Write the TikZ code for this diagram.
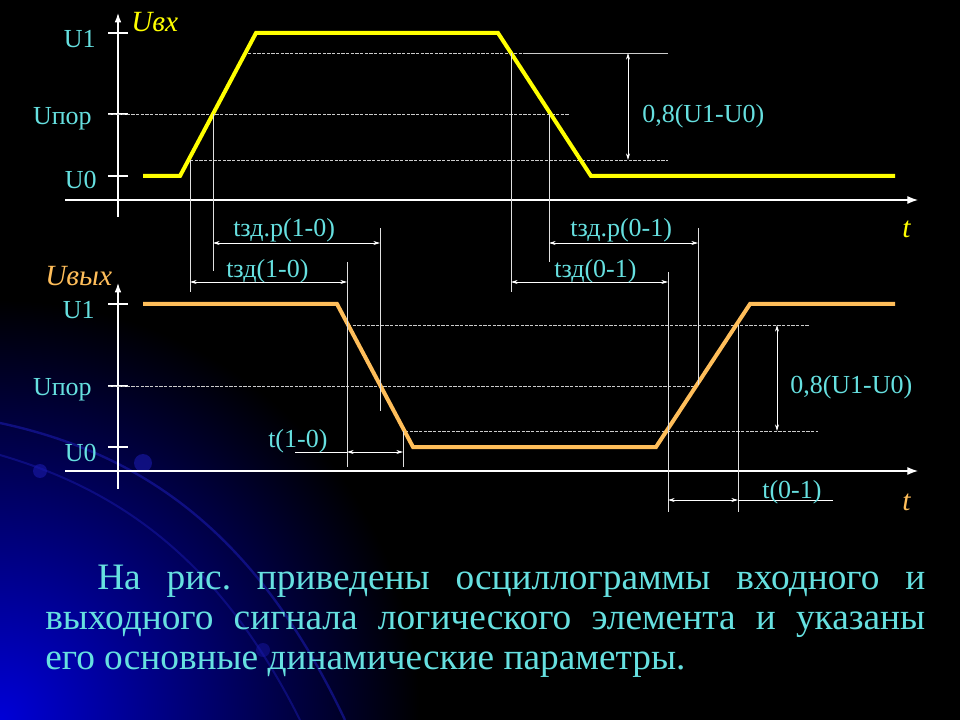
\documentclass[tikz,border=0pt]{standalone}
\usepackage{fontspec}
\setmainfont{Liberation Serif}
\frenchspacing
\usetikzlibrary{arrows.meta,positioning}
\definecolor{labcyan}{RGB}{102,224,224}
\definecolor{sigin}{RGB}{255,255,0}
\definecolor{sigout}{RGB}{255,190,90}
\definecolor{bgblue}{RGB}{0,0,215}
\definecolor{arcblue}{RGB}{25,25,170}
\tikzset{
    axis/.style={white, line width=0.9pt},
    level/.style={white!80!black, line width=0.6pt, dash pattern=on 2.5pt off 1pt},
    vline/.style={white!88!black, line width=0.7pt},
    dim/.style={white, line width=0.6pt, {Stealth[length=5pt,width=3pt]}-{Stealth[length=5pt,width=3pt]}},
    trace/.style={line width=3pt, line join=miter},
    lab/.style={text=labcyan, font=\fontsize{19.5}{22}\selectfont, inner sep=0pt},
    axlab/.style={font=\fontsize{22}{24}\selectfont\itshape, inner sep=0pt}
}

\begin{document}
\begin{tikzpicture}[x=0.75pt, y=-0.75pt]
    % background
    \fill[black] (0,0) rectangle (960,720);
    \begin{scope}
        \clip (0,0) rectangle (960,720);
        \shade[inner color=bgblue, outer color=black] (0,720) circle (420);
        \draw[arcblue, line width=1.8pt, opacity=0.6] (0,423) .. controls (150,455) and (260,540) .. (345,720);
        \draw[arcblue, line width=1.5pt, opacity=0.5] (0,455) .. controls (120,490) and (220,560) .. (300,720);
        \fill[arcblue, opacity=0.6] (40,471) circle (7);
        \fill[arcblue, opacity=0.6] (143,463) circle (9);
        \fill[arcblue, opacity=0.45] (263,650) circle (7);
    \end{scope}
    \useasboundingbox (0,0) rectangle (960,720);

    % input axes
    \draw[axis, -{Latex[length=7pt,width=5pt]}] (118,217) -- (118,13);
    \draw[axis, -{Latex[length=8pt,width=6pt]}] (65,200) -- (918,200);
    \foreach \y in {33,114,176} \draw[axis] (108,\y) -- (128,\y);
    \node[axlab, text=sigin, anchor=base west] (uin) at (131,32) {Uвх};
    \node[axlab, text=sigin, anchor=base west] (tin) at (902,238) {t};
    \node[lab, anchor=base east] (in1) at (96,48) {U1};
    \node[lab, anchor=base east] (inth) at (92,125) {Uпор};
    \node[lab, anchor=base east] (in0) at (97,189) {U0};

    % input levels
    \draw[level] (248,53) -- (525,53);
    \draw[white!80!black, line width=0.6pt] (525,53) -- (668,53);
    \draw[level] (108,114) -- (570,114);
    \draw[level] (190,160) -- (668,160);
    \draw[dim] (628,53) -- (628,160);
    \node[lab, anchor=base west] (inamp) at (642,123) {0,8(U1-U0)};

    % input signal
    \draw[trace, sigin] (143,176) -- (180,176) -- (256,33) -- (498,33) -- (591,176) -- (895,176);

    % output axes
    \draw[axis, -{Latex[length=7pt,width=5pt]}] (118,489) -- (118,283);
    \draw[axis, -{Latex[length=8pt,width=6pt]}] (65,471) -- (918,471);
    \foreach \y in {304,386,447} \draw[axis] (108,\y) -- (128,\y);
    \node[axlab, text=sigout, anchor=base west] (uout) at (45,286) {Uвых};
    \node[axlab, text=sigout, anchor=base west] (tout) at (902,510) {t};
    \node[lab, anchor=base east] (out1) at (95,318) {U1};
    \node[lab, anchor=base east] (outth) at (92,395) {Uпор};
    \node[lab, anchor=base east] (out0) at (97,461) {U0};

    % output levels
    \draw[level] (348,325) -- (810,325);
    \draw[level] (108,386) -- (697,386);
    \draw[level] (405,431) -- (818,431);
    \draw[dim] (777,325) -- (777,431);
    \node[lab, anchor=base west] (outamp) at (790,393) {0,8(U1-U0)};

    % output signal
    \draw[trace, sigout] (143,304) -- (337,304) -- (413,447) -- (656,447) -- (750,304) -- (895,304);

    % crossing points
    \coordinate (a10) at (190,160);
    \coordinate (a50) at (213,114);
    \coordinate (a90) at (511,53);
    \coordinate (b50) at (549,114);
    \coordinate (c90) at (347,262);
    \coordinate (c50) at (380,228);
    \coordinate (c10) at (403,431);
    \coordinate (d10) at (668,272);
    \coordinate (d50) at (698,228);
    \coordinate (d90) at (738,325);

    % marker lines
    \draw[vline] (a10) -- (190,292);
    \draw[vline] (a50) -- (213,271);
    \draw[vline] (a90) -- (511,292);
    \draw[vline] (b50) -- (549,262);
    \draw[vline] (c90) -- (347,467);
    \draw[vline] (c50) -- (380,411);
    \draw[vline] (c10) -- (403,467);
    \draw[vline] (d10) -- (668,512);
    \draw[vline] (d50) -- (698,385);
    \draw[vline] (d90) -- (738,512);

    % delays
    \draw[dim] (213,243) -- (380,243);
    \node[lab, anchor=base west] (tpr10) at (233,237) {tзд.р(1-0)};
    \draw[dim] (190,282) -- (347,282);
    \node[lab, anchor=base west] (tp10) at (226,278) {tзд(1-0)};
    \draw[dim] (549,243) -- (698,243);
    \node[lab, anchor=base west] (tpr01) at (570,237) {tзд.р(0-1)};
    \draw[dim] (511,282) -- (668,282);
    \node[lab, anchor=base west] (tp01) at (554,278) {tзд(0-1)};
    \draw[white, line width=0.6pt] (295,452) -- (347,452);
    \draw[dim] (347,452) -- (403,452);
    \node[lab, anchor=base west] (tf10) at (268,447) {t(1-0)};
    \draw[dim] (668,500) -- (738,500);
    \draw[white, line width=0.6pt] (738,500) -- (833,500);
    \node[lab, anchor=base west] (tf01) at (762,498) {t(0-1)};

    % caption
    \node[text=labcyan, font=\fontsize{28}{30}\selectfont, inner sep=0pt, anchor=base west] (txt1) at (97,589)
        {\makebox[621pt][s]{На рис. приведены осциллограммы входного и}};
    \node[text=labcyan, font=\fontsize{28}{30}\selectfont, inner sep=0pt, anchor=base west] (txt2) at (45,629)
        {\makebox[660pt][s]{выходного сигнала логического элемента и указаны}};
    \node[text=labcyan, font=\fontsize{28}{30}\selectfont, inner sep=0pt, anchor=base west] (txt3) at (45,669)
        {его основные динамические параметры.};
\end{tikzpicture}
\end{document}
